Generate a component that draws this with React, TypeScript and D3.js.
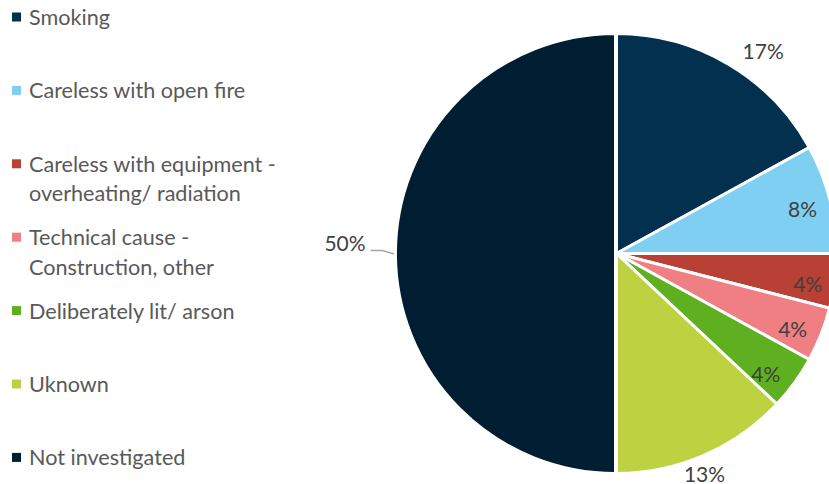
import React from "react";
import * as d3 from "d3";

const categories: string[][] = [
  ["Smoking"],
  ["Careless with open fire"],
  ["Careless with equipment -", "overheating/ radiation"],
  ["Technical cause -", "Construction, other"],
  ["Deliberately lit/ arson"],
  ["Uknown"],
  ["Not investigated"],
];
const values: number[] = [17, 8, 4, 4, 4, 13, 50];
const labels: string[] = ["17%", "8%", "4%", "4%", "4%", "13%", "50%"];
const colors: string[] = ["#03304f", "#7fcff3", "#b94034", "#ef7f82", "#5fb021", "#bdd241", "#001e31"];

// label layout (radius factor, angle nudge in degrees)
const labelLayout = [
  { r: 1.14, da: 5.2 },
  { r: 0.87, da: 0.8 },
  { r: 0.88, da: 1.7 },
  { r: 0.87, da: 1.4 },
  { r: 0.87, da: 2.7 },
  { r: 1.077, da: 1.6 },
  { r: 1.235, da: 2.3 },
];

const W = 829;
const H = 484;
const cx = 616.5;
const cy = 253.5;
const R = 220;
const FONT = "Lato, 'Open Sans', sans-serif";

export default function App() {
  const pie = d3.pie<number>().sort(null).value((d) => d);
  const arcs = pie(values);
  const arc = d3.arc<d3.PieArcDatum<number>>().innerRadius(0).outerRadius(R);

  const legendTop = 17;
  const legendStep = 73.4;
  const lineH = 29.5;

  const leader = d3.path();
  leader.moveTo(-246, -3);
  leader.lineTo(-234, -3);
  leader.lineTo(-222.5, 0.5);

  return (
    <svg width={W} height={H} style={{ position: "absolute", left: 0, top: 0, background: "#fff" }}>
      <g transform={`translate(${cx},${cy})`}>
        {arcs.map((a, i) => (
          <path
            key={i}
            d={arc(a) || ""}
            fill={colors[i]}
            stroke="#fff"
            strokeWidth={3}
            strokeLinejoin="round"
            transform={i === 6 ? "translate(-1,0)" : undefined}
          />
        ))}
        {arcs.map((a, i) => {
          const mid = (a.startAngle + a.endAngle) / 2 + (labelLayout[i].da * Math.PI) / 180;
          const rr = R * labelLayout[i].r;
          const x = Math.sin(mid) * rr;
          const y = -Math.cos(mid) * rr;
          return (
            <text
              key={"l" + i}
              x={x}
              y={y}
              textAnchor="middle"
              dominantBaseline="central"
              fontFamily={FONT}
              fontSize={21}
              fill="#404040"
            >
              {labels[i]}
            </text>
          );
        })}
        <path d={leader.toString()} fill="none" stroke="#a6a6a6" strokeWidth={1.5} />
      </g>
      {categories.map((lines, i) => {
        const y0 = legendTop + i * legendStep;
        return (
          <g key={"lg" + i}>
            <rect x={12} y={y0 - 4.5} width={9} height={9} fill={colors[i]} />
            {lines.map((t, j) => (
              <text
                key={j}
                x={29}
                y={y0 + j * lineH}
                dominantBaseline="central"
                fontFamily={FONT}
                fontSize={21.6}
                fill="#595959"
              >
                {t}
              </text>
            ))}
          </g>
        );
      })}
    </svg>
  );
}
